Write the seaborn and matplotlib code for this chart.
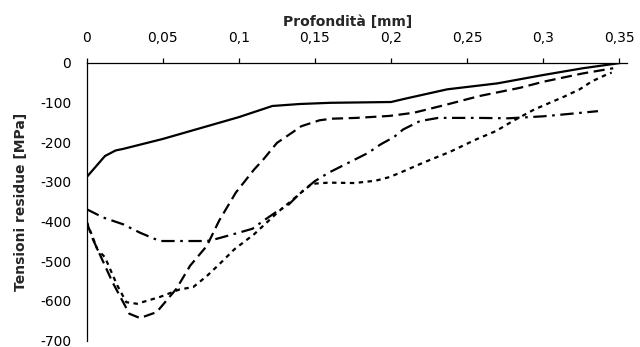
import numpy as np
import pandas as pd
import matplotlib
matplotlib.use("Agg")
import matplotlib.pyplot as plt
import matplotlib.ticker as mticker
import seaborn as sns

# profondita [mm] / tensioni residue [MPa]
x_a = [0, 0.012, 0.019, 0.024, 0.05, 0.1, 0.122, 0.14, 0.16, 0.18, 0.2, 0.21, 0.237, 0.27, 0.3, 0.326, 0.352]
y_a = [-288, -235, -221, -217, -192, -137, -109, -104, -101, -100, -99, -90, -67, -52, -31, -14, 0]

x_b = [0, 0.004, 0.017, 0.028, 0.035, 0.046, 0.059, 0.068, 0.079, 0.087, 0.098, 0.11, 0.116, 0.125,
       0.135, 0.141, 0.153, 0.161, 0.177, 0.199, 0.215, 0.237, 0.258, 0.285, 0.3, 0.326, 0.346]
y_b = [-402, -444, -553, -632, -643, -628, -569, -511, -461, -398, -327, -269, -244, -202,
       -176, -160, -145, -141, -139, -134, -126, -105, -84, -63, -48, -27, -14]

x_c = [0, 0.011, 0.024, 0.035, 0.048, 0.079, 0.083, 0.1, 0.109, 0.115, 0.126, 0.132, 0.141, 0.15,
       0.159, 0.172, 0.185, 0.193, 0.202, 0.208, 0.219, 0.231, 0.258, 0.277, 0.3, 0.317, 0.336]
y_c = [-369, -390, -407, -428, -449, -449, -446, -428, -418, -401, -372, -360, -326, -298,
       -277, -252, -227, -206, -187, -168, -147, -139, -139, -140, -135, -129, -122]

x_d = [0, 0.007, 0.012, 0.02, 0.026, 0.033, 0.048, 0.061, 0.07, 0.079, 0.087, 0.097, 0.11, 0.126,
       0.14, 0.148, 0.159, 0.176, 0.19, 0.199, 0.206, 0.221, 0.239, 0.256, 0.269, 0.28, 0.294,
       0.314, 0.324, 0.332, 0.341, 0.345]
y_d = [-400, -470, -490, -560, -603, -607, -590, -571, -565, -537, -508, -470, -432, -375,
       -330, -305, -302, -303, -297, -288, -277, -252, -224, -193, -172, -147, -118,
       -85, -67, -47, -31, -25]

serie = ["A", "B", "C", "D"]
xs = [x_a, x_b, x_c, x_d]
ys = [y_a, y_b, y_c, y_d]

df = pd.concat([pd.DataFrame({"x": x, "y": y, "serie": s}) for s, x, y in zip(serie, xs, ys)],
               ignore_index=True)

sns.set_style("white")
plt.rcParams["font.family"] = ["DejaVu Sans"]
plt.rcParams["axes.unicode_minus"] = False

fig = plt.figure(figsize=(6.4, 3.47), dpi=100)
ax = fig.add_axes([86.7 / 640, 1 - 340.7 / 347, (626.9 - 86.7) / 640, 278 / 347])

dashes = {"A": "", "B": (5, 2.5), "C": (6, 2.5, 1.2, 2.5), "D": (2, 2)}
sns.lineplot(data=df, x="x", y="y", style="serie", dashes=dashes, color="black",
             linewidth=1.6, estimator=None, sort=False, legend=False, ax=ax)

ax.set_xlim(0, 0.355)
ax.set_ylim(-700, 0)
ax.xaxis.tick_top()
ax.xaxis.set_label_position("top")
ax.set_xticks(np.arange(0, 0.351, 0.05))
ax.set_yticks(np.arange(-700, 1, 100))
ax.xaxis.set_major_formatter(mticker.FuncFormatter(lambda v, p: "0" if abs(v) < 1e-9 else f"{v:.2f}".rstrip("0").replace(".", ",")))

for sp in ["right", "bottom"]:
    ax.spines[sp].set_visible(False)
for sp in ["top", "left"]:
    ax.spines[sp].set_color("black")
    ax.spines[sp].set_linewidth(0.9)

ax.tick_params(axis="x", direction="out", length=3.4, width=0.9, pad=9, labelsize=10, colors="black")
ax.tick_params(axis="y", direction="out", length=3.4, width=0.9, pad=7.7, labelsize=10, colors="black")

ax.set_xlabel("Profondità [mm]", fontsize=10, fontweight="bold")
ax.xaxis.set_label_coords(0.483, 1.12)
ax.xaxis.label.set_va("bottom")
ax.set_ylabel("Tensioni residue [MPa]", fontsize=10, fontweight="bold", labelpad=9)

fig.savefig("out.png", dpi=100)
